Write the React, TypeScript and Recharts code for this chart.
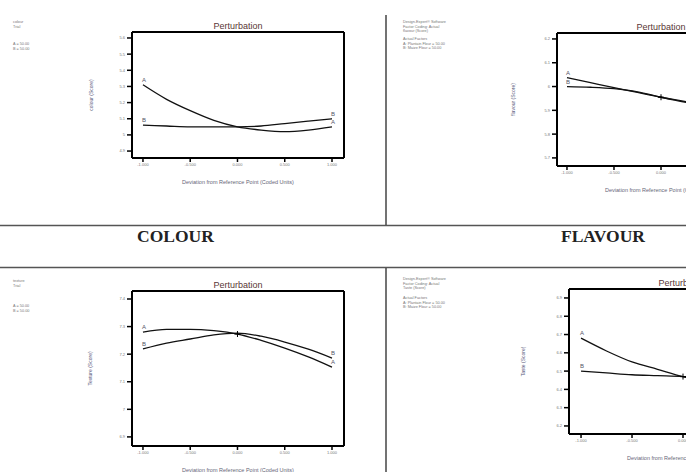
import React from "react";
import { LineChart, Line, XAxis, YAxis, ReferenceLine, LabelList } from "recharts";

// deviation from the reference point (coded units)
const deviation = [-1, -0.75, -0.5, -0.25, 0, 0.25, 0.5, 0.75, 1];
const xTicks = [-1, -0.5, 0, 0.5, 1];

const colourA = [5.31, 5.22, 5.15, 5.09, 5.05, 5.03, 5.02, 5.03, 5.05];
const colourB = [5.06, 5.055, 5.05, 5.05, 5.05, 5.055, 5.07, 5.085, 5.1];
const colourTicks = [5.6, 5.5, 5.4, 5.3, 5.2, 5.1, 5, 4.9];

const flavourA = [6.037, 6.016, 5.995, 5.975, 5.955, 5.938, 5.92, 5.903, 5.885];
const flavourB = [6.0, 5.997, 5.991, 5.978, 5.955, 5.935, 5.914, 5.893, 5.872];
const flavourTicks = [6.2, 6.1, 6, 5.9, 5.8, 5.7];

const textureA = [7.28, 7.29, 7.29, 7.285, 7.273, 7.25, 7.222, 7.19, 7.153];
const textureB = [7.219, 7.24, 7.255, 7.27, 7.276, 7.265, 7.244, 7.218, 7.186];
const textureTicks = [7.4, 7.3, 7.2, 7.1, 7, 6.9];

const tasteA = [6.68, 6.61, 6.55, 6.51, 6.47, 6.44, 6.42, 6.4, 6.39];
const tasteB = [6.5, 6.49, 6.48, 6.475, 6.47, 6.46, 6.455, 6.45, 6.445];
const tasteTicks = [6.9, 6.8, 6.7, 6.6, 6.5, 6.4, 6.3, 6.2];

const toRows = (a: number[], b: number[]) => deviation.map((x, i) => ({ x, A: a[i], B: b[i] }));

const YW = 50;
const MT = 12;
const XH = 40;
const MR = 10;
const small = "Liberation Sans, Arial, sans-serif";

interface PanelProps {
  fx: number;
  fy: number;
  fw: number;
  fh: number;
  xDomain: [number, number];
  yDomain: [number, number];
  yTicks: number[];
  rows: { x: number; A: number; B: number }[];
  yLabel: string;
  labelGap: number;
  mark?: boolean;
}

const Panel = ({ fx, fy, fw, fh, xDomain, yDomain, yTicks, rows, yLabel, labelGap, mark }: PanelProps) => {
  const w = YW + fw + MR;
  const h = MT + fh + XH;
  const last = rows.length - 1;
  const curveLabel = (name: string) => (p: any) => {
    if (p.index !== 0 && p.index !== last) return null;
    return (
      <text x={p.x + 1} y={p.y - 3} fontSize={6} fill="#556" textAnchor="middle" fontFamily={small}>
        {name}
      </text>
    );
  };
  const plus = (p: any) => {
    if (!mark || rows[p.index].x !== 0) return <g key={"d" + p.index} />;
    return (
      <path key={"d" + p.index} d={`M${p.cx - 3},${p.cy}h6M${p.cx},${p.cy - 3}v6`} stroke="#000" strokeWidth={1} />
    );
  };
  return (
    <div style={{ position: "absolute", left: fx - YW, top: fy - MT, width: w, height: h }}>
      <div
        style={{
          position: "absolute", left: YW, width: fw, top: MT - 11, textAlign: "center",
          fontFamily: small, fontSize: 9, lineHeight: "10px", color: "#5a3636",
        }}
      >
        Perturbation
      </div>
      <LineChart width={w} height={h} data={rows} margin={{ top: MT, right: MR, bottom: 0, left: 0 }}>
        <XAxis
          dataKey="x"
          type="number"
          domain={xDomain}
          ticks={xTicks}
          allowDataOverflow
          height={XH}
          tickFormatter={(v: number) => v.toFixed(3)}
          tick={{ fontSize: 4, fill: "#777", fontFamily: small }}
          tickLine={{ stroke: "#000", strokeWidth: 1.5 }}
          axisLine={{ stroke: "#000", strokeWidth: 2 }}
          tickSize={4}
          tickMargin={1}
          label={{
            value: "Deviation from Reference Point (Coded Units)",
            position: "insideBottom",
            offset: 14,
            fontSize: 5.5,
            fill: "#667",
            fontFamily: small,
          }}
        />
        <YAxis
          type="number"
          domain={yDomain}
          ticks={yTicks}
          allowDataOverflow
          width={YW}
          tickFormatter={(v: number) => String(Math.round(v * 10) / 10)}
          tick={{ fontSize: 4, fill: "#777", fontFamily: small }}
          tickLine={{ stroke: "#000", strokeWidth: 1.5 }}
          axisLine={{ stroke: "#000", strokeWidth: 2 }}
          tickSize={5}
          tickMargin={2}
          label={{
            value: yLabel,
            angle: -90,
            position: "insideLeft",
            offset: YW - labelGap,
            fontSize: 5,
            fill: "#557",
            fontFamily: small,
            style: { textAnchor: "middle" },
          }}
        />
        <ReferenceLine y={yDomain[1]} stroke="#000" strokeWidth={2} />
        <ReferenceLine x={xDomain[1]} stroke="#000" strokeWidth={2} />
        <Line dataKey="A" type="monotone" stroke="#111" strokeWidth={1.3} dot={plus} isAnimationActive={false}>
          <LabelList dataKey="A" content={curveLabel("A")} />
        </Line>
        <Line dataKey="B" type="monotone" stroke="#111" strokeWidth={1.3} dot={false} isAnimationActive={false}>
          <LabelList dataKey="B" content={curveLabel("B")} />
        </Line>
      </LineChart>
    </div>
  );
};

const note = (x: number, y: number, lines: string[]) =>
  lines.map((t, i) => (
    <text key={t + i} x={x} y={y + i * 4.5} fontSize={3.8} fill="#777" fontFamily={small}>
      {t}
    </text>
  ));

export default function App() {
  return (
    <div style={{ position: "absolute", left: 0, top: 0, width: 686, height: 472, overflow: "hidden", background: "#fff" }}>
      <svg width={686} height={472} style={{ position: "absolute", left: 0, top: 0 }}>
        <line x1={0} y1={225.5} x2={686} y2={225.5} stroke="#555" strokeWidth={1.5} />
        <line x1={0} y1={267.5} x2={686} y2={267.5} stroke="#555" strokeWidth={1.5} />
        <line x1={386} y1={15} x2={386} y2={225} stroke="#444" strokeWidth={1.5} />
        <line x1={386} y1={268} x2={386} y2={472} stroke="#444" strokeWidth={1.5} />
        <text x={137} y={242} fontSize={17.5} fontWeight="bold" fontFamily="Liberation Serif, serif" fill="#222">
          COLOUR
        </text>
        <text x={561} y={242} fontSize={17.5} fontWeight="bold" fontFamily="Liberation Serif, serif" fill="#222">
          FLAVOUR
        </text>
        {note(13, 23, ["colour", "Trial"])}
        {note(13, 45, ["A = 50.00", "B = 50.00"])}
        {note(403, 23, ["Design-Expert® Software", "Factor Coding: Actual", "flavour (Score)"])}
        {note(403, 40, ["Actual Factors", "A: Plantain Flour = 50.00", "B: Maize Flour = 50.00"])}
        {note(13, 282, ["texture", "Trial"])}
        {note(13, 307, ["A = 50.00", "B = 50.00"])}
        {note(403, 280, ["Design-Expert® Software", "Factor Coding: Actual", "Taste (Score)"])}
        {note(403, 299, ["Actual Factors", "A: Plantain Flour = 50.00", "B: Maize Flour = 50.00"])}
      </svg>
      <Panel fx={132} fy={32} fw={212} fh={126} xDomain={[-1.116, 1.127]} yDomain={[4.857, 5.637]}
        yTicks={colourTicks} rows={toRows(colourA, colourB)} yLabel="colour (Score)" labelGap={41} />
      <Panel fx={557} fy={33} fw={208} fh={133} xDomain={[-1.106, 1.106]} yDomain={[5.666, 6.225]}
        yTicks={flavourTicks} rows={toRows(flavourA, flavourB)} yLabel="flavour (Score)" labelGap={44} mark />
      <Panel fx={132} fy={291} fw={212} fh={155} xDomain={[-1.116, 1.127]} yDomain={[6.867, 7.429]}
        yTicks={textureTicks} rows={toRows(textureA, textureB)} yLabel="Texture (Score)" labelGap={42} mark />
      <Panel fx={569} fy={289} fw={228} fh={145} xDomain={[-1.118, 1.118]} yDomain={[6.156, 6.949]}
        yTicks={tasteTicks} rows={toRows(tasteA, tasteB)} yLabel="Taste (Score)" labelGap={46} mark />
    </div>
  );
}
